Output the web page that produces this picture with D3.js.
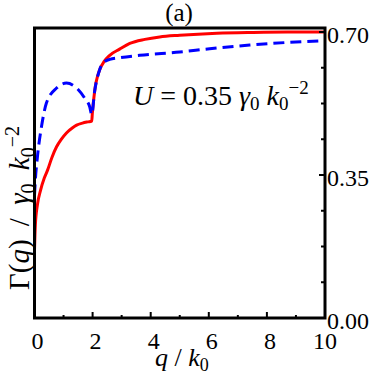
<!DOCTYPE html>
<html><head><meta charset="utf-8">
<script src="https://cdn.jsdelivr.net/npm/d3@7/dist/d3.min.js"></script>
<style>
html,body{margin:0;padding:0;background:#fff;}
</style></head>
<body><svg id="c" width="374" height="379" font-family="'Liberation Serif', 'DejaVu Serif', serif"></svg>
<script>
// ---- data ----
const qRed = [0, 0.03, 0.1, 0.21, 0.34, 0.45, 0.6, 0.76, 0.92, 1.1, 1.3, 1.45, 1.65, 1.83, 1.97, 1.99, 2.07, 2.24, 2.4, 2.59, 2.93, 3.28, 3.8, 4.31, 5.0, 6.28, 7.5, 8.7, 10];
const gRed = [0.166, 0.228, 0.277, 0.313, 0.343, 0.362, 0.393, 0.419, 0.437, 0.453, 0.465, 0.472, 0.477, 0.480, 0.482, 0.500, 0.555, 0.607, 0.628, 0.643, 0.658, 0.672, 0.682, 0.688, 0.692, 0.697, 0.699, 0.700, 0.700];
const qBlue = [0, 0.03, 0.1, 0.24, 0.41, 0.76, 1.1, 1.45, 1.72, 1.9, 1.97, 2.07, 2.24, 2.4, 2.59, 2.93, 3.62, 5.0, 6.03, 7.41, 8.6, 10];
const gBlue = [0.30, 0.338, 0.394, 0.468, 0.526, 0.563, 0.575, 0.563, 0.539, 0.517, 0.498, 0.555, 0.607, 0.627, 0.633, 0.637, 0.643, 0.651, 0.659, 0.668, 0.674, 0.679];
const xTicks = [0, 2, 4, 6, 8, 10];
const xMinor = [1, 3, 5, 7, 9];
const yTicks = [0, 0.35, 0.70];
const yMinor = [0.0875, 0.175, 0.2625, 0.4375, 0.525, 0.6125];
const yTickLabels = ["0.00", "0.35", "0.70"];

// ---- layout ----
const FF = "'Liberation Serif', 'DejaVu Serif', serif";
const L = 34.5, R = 325, T = 28, B = 318;
const x = d3.scaleLinear().domain([0, 10]).range([L, R]);
const y = d3.scaleLinear().domain([0, 0.70]).range([B, 32]);
const svg = d3.select("#c");

svg.append("clipPath").attr("id", "clp").append("rect")
  .attr("x", L).attr("y", T).attr("width", R - L).attr("height", B - T);

const line = d3.line().x(d => x(d[0])).y(d => y(d[1])).curve(d3.curveMonotoneX);
const g = svg.append("g").attr("clip-path", "url(#clp)");
g.append("path").datum(qRed.map((q, i) => [q, gRed[i]]))
  .attr("d", line).attr("fill", "none").attr("stroke", "#ff0000").attr("stroke-width", 3);
g.append("path").datum(qBlue.map((q, i) => [q, gBlue[i]]))
  .attr("d", line).attr("fill", "none").attr("stroke", "#0000ff").attr("stroke-width", 3)
  .attr("stroke-dasharray", "11,6");

// frame
svg.append("rect").attr("x", L).attr("y", T).attr("width", R - L).attr("height", B - T)
  .attr("fill", "none").attr("stroke", "#000").attr("stroke-width", 3);

// x ticks (inward from bottom)
svg.selectAll(".xt").data(xTicks).enter().append("line")
  .attr("x1", d => x(d)).attr("x2", d => x(d)).attr("y1", B).attr("y2", B - 6)
  .attr("stroke", "#000").attr("stroke-width", 2);
svg.selectAll(".xm").data(xMinor).enter().append("line")
  .attr("x1", d => x(d)).attr("x2", d => x(d)).attr("y1", B).attr("y2", B - 3)
  .attr("stroke", "#000").attr("stroke-width", 2);
svg.selectAll(".xl").data(xTicks).enter().append("text")
  .attr("font-family", FF)
  .attr("x", d => x(d) + (d < 10 ? 3 : 0)).attr("y", 349)
  .attr("text-anchor", "middle").attr("font-size", 24).text(d => d);

// y ticks (right side, inward)
svg.selectAll(".yt").data(yTicks).enter().append("line")
  .attr("x1", R).attr("x2", R - 6).attr("y1", d => y(d)).attr("y2", d => y(d))
  .attr("stroke", "#000").attr("stroke-width", 2);
svg.selectAll(".ym").data(yMinor).enter().append("line")
  .attr("x1", R).attr("x2", R - 4).attr("y1", d => y(d)).attr("y2", d => y(d))
  .attr("stroke", "#000").attr("stroke-width", 2);
svg.selectAll(".yl").data(yTicks).enter().append("text")
  .attr("font-family", FF)
  .attr("x", 327).attr("y", d => y(d) + 11)
  .attr("font-size", 24).text((d, i) => yTickLabels[i]);

// title
svg.append("text").attr("font-family", FF).attr("x", 179).attr("y", 21).attr("text-anchor", "middle")
  .attr("font-size", 25).text("(a)");

// annotation
const ann = svg.append("text").attr("font-family", FF).attr("x", 133).attr("y", 105).attr("font-size", 28);
ann.append("tspan").attr("font-style", "italic").text("U");
ann.append("tspan").text(" = 0.35 ");
ann.append("tspan").attr("font-style", "italic").text("γ");
ann.append("tspan").attr("font-size", 19).attr("dy", 5).text("0");
ann.append("tspan").attr("dy", -5).text(" ");
ann.append("tspan").attr("font-style", "italic").text("k");
ann.append("tspan").attr("font-size", 19).attr("dy", 5).text("0");
ann.append("tspan").attr("font-size", 19).attr("dy", -16).text("−2");

// x label
const xl = svg.append("text").attr("font-family", FF).attr("x", 155).attr("y", 366).attr("font-size", 26);
xl.append("tspan").attr("font-style", "italic").text("q");
xl.append("tspan").text(" / ");
xl.append("tspan").attr("font-style", "italic").text("k");
xl.append("tspan").attr("font-size", 18).attr("dy", 5).text("0");

// y label
const yl = svg.append("text").attr("font-family", FF).attr("transform", "translate(29,290) rotate(-90)")
  .attr("font-size", 29).attr("word-spacing", 6);
yl.append("tspan").text("Γ(");
yl.append("tspan").attr("font-style", "italic").text("q");
yl.append("tspan").text(") / ");
yl.append("tspan").attr("font-style", "italic").text("γ");
yl.append("tspan").attr("font-size", 20).attr("dy", 6).text("0");
yl.append("tspan").attr("dy", -6).text(" ");
yl.append("tspan").attr("font-style", "italic").text("k");
yl.append("tspan").attr("font-size", 20).attr("dy", 6).text("0");
yl.append("tspan").attr("font-size", 20).attr("dy", -16).text("−2");
</script></body></html>
